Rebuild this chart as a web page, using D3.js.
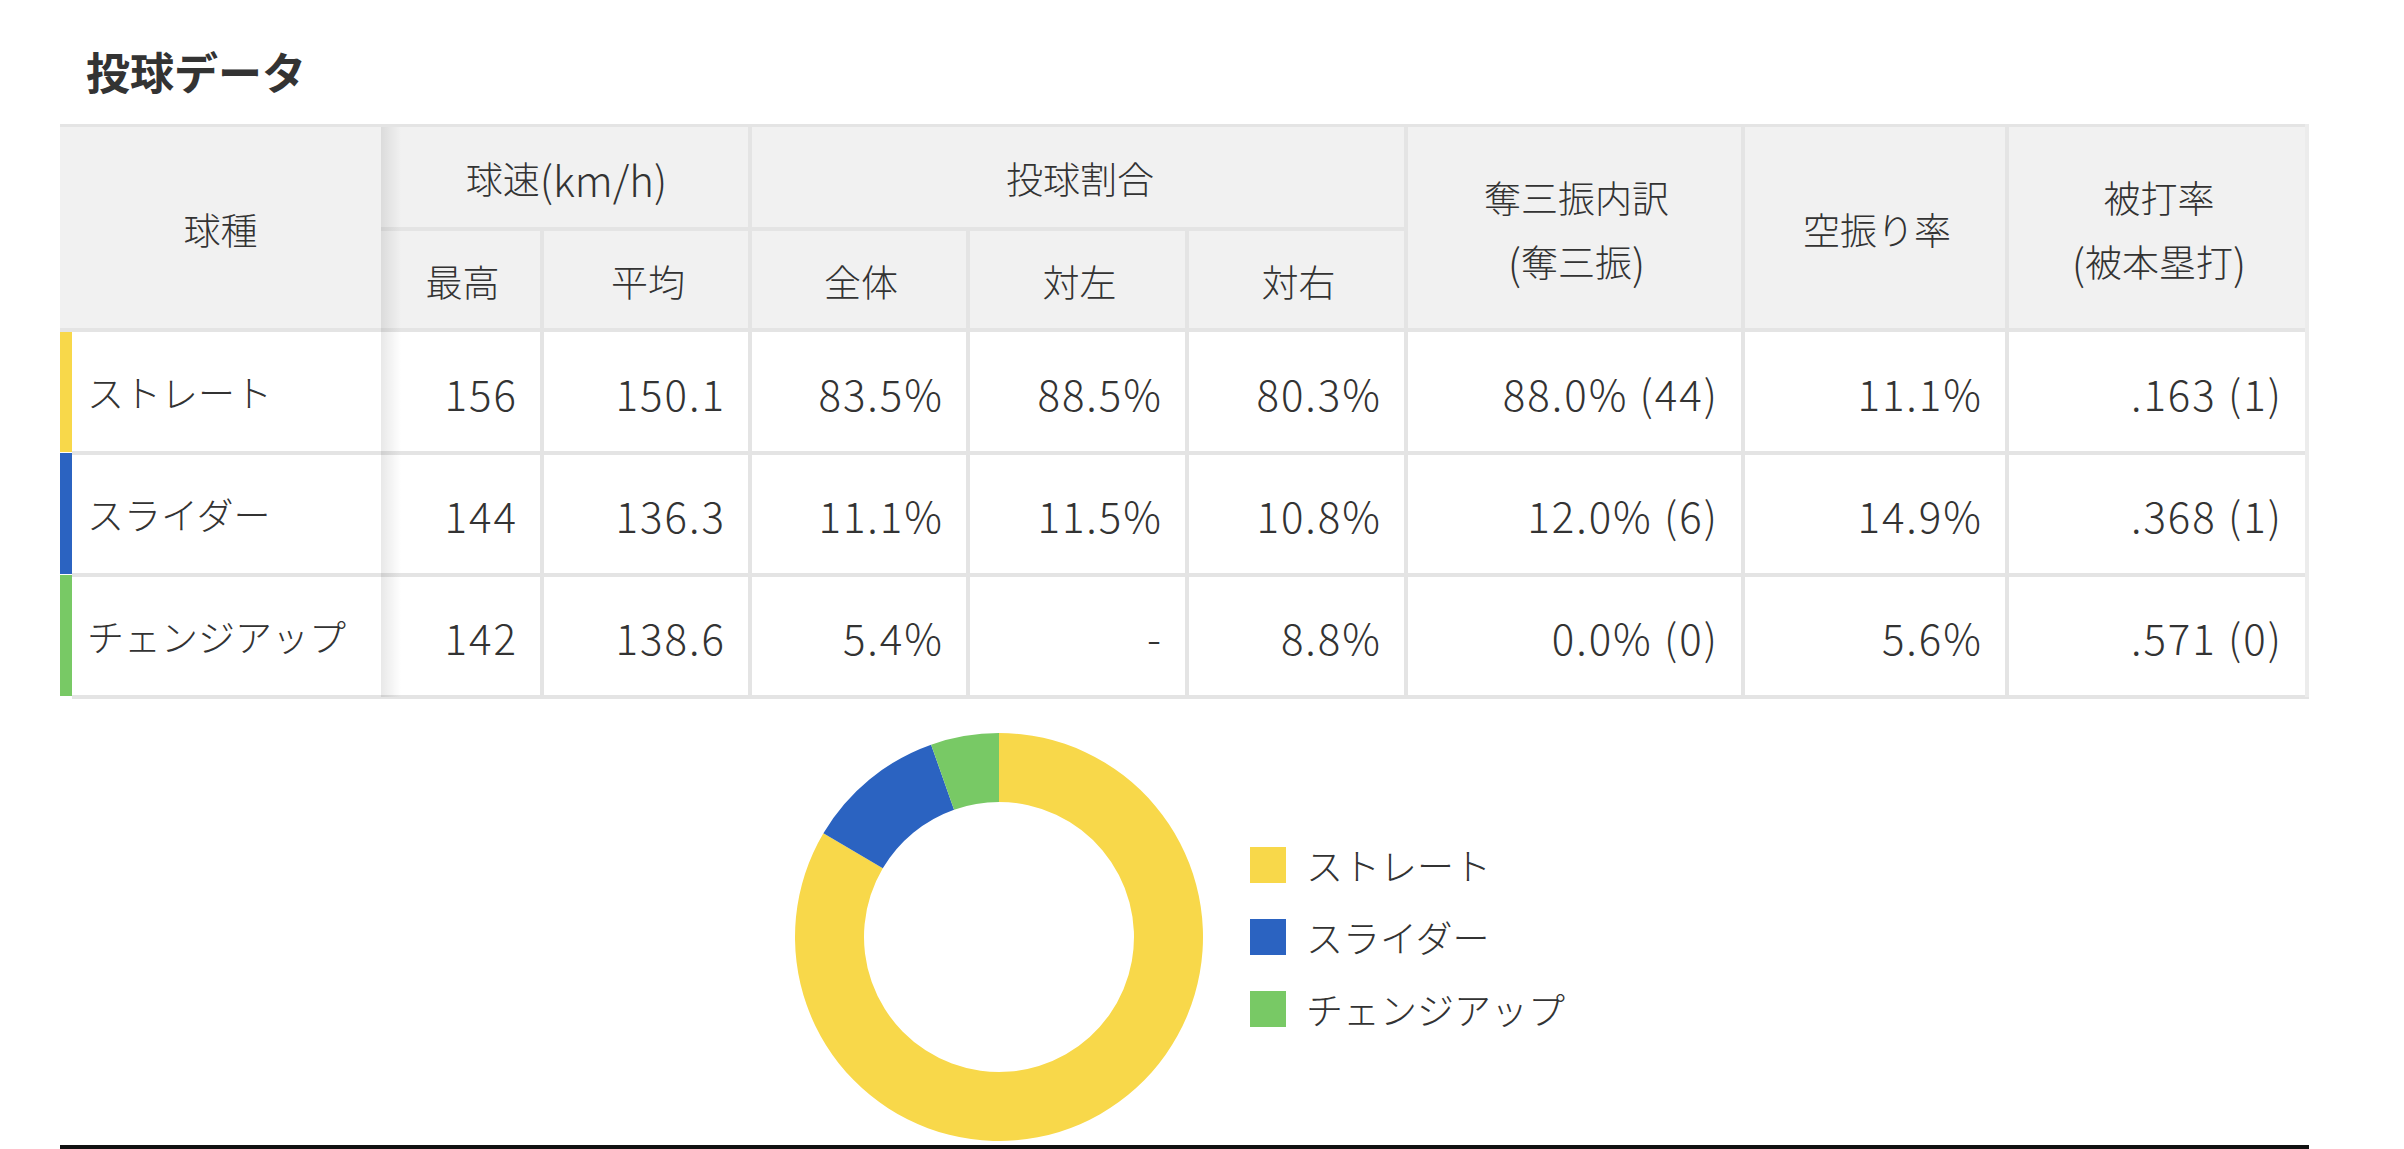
<!DOCTYPE html>
<html>
<head>
<meta charset="utf-8">
<script src="https://cdn.jsdelivr.net/npm/d3@7"></script>
<style>
  body { margin: 0; background: #fff; }
  svg { display: block; }
  text { font-family: "Noto Sans CJK JP", "Noto Sans", sans-serif; fill: #333; font-weight: 300; }
</style>
</head>
<body>
<svg id="chart" width="2404" height="1149"></svg>
<script>
// pitch data
const pitchTypes = ['ストレート', 'スライダー', 'チェンジアップ'];
const pitchColors = ['#f8d84a', '#2b63c1', '#78c965'];
const maxSpeed = [156, 144, 142];
const avgSpeed = [150.1, 136.3, 138.6];
const ratioAll = [83.5, 11.1, 5.4];
const ratioVsL = [88.5, 11.5, null];
const ratioVsR = [80.3, 10.8, 8.8];
const kShare = [88.0, 12.0, 0.0];
const kCount = [44, 6, 0];
const whiffRate = [11.1, 14.9, 5.6];
const avgAgainst = ['.163', '.368', '.571'];
const hrAllowed = [1, 1, 0];

// header labels (each line split into [text, isLatin] parts)
const groupHeaders = [
  { label: [[['球種', 0]]], from: 0, to: 1, rowspan: 2 },
  { label: [[['球速', 0], ['(km/h)', 1]]], from: 1, to: 3, rowspan: 1 },
  { label: [[['投球割合', 0]]], from: 3, to: 6, rowspan: 1 },
  { label: [[['奪三振内訳', 0]], [['(', 1], ['奪三振', 0], [')', 1]]], from: 6, to: 7, rowspan: 2 },
  { label: [[['空振り率', 0]]], from: 7, to: 8, rowspan: 2 },
  { label: [[['被打率', 0]], [['(', 1], ['被本塁打', 0], [')', 1]]], from: 8, to: 9, rowspan: 2 }
];
const subHeaders = [
  { label: '最高', col: 1 }, { label: '平均', col: 2 },
  { label: '全体', col: 3 }, { label: '対左', col: 4 }, { label: '対右', col: 5 }
];

const svg = d3.select('#chart');
const pct = v => v == null ? '-' : d3.format('.1f')(v) + '%';

// layout
const tableLeft = 60, tableTop = 124;
const colWidths = [321, 163, 208, 218, 219, 219, 337, 264, 300];
const colX = [tableLeft].concat(Array.from(d3.cumsum(colWidths), d => tableLeft + d));
const headY = [tableTop, 228, 331];
const y = d3.scaleBand().domain(pitchTypes).range([331, 697]);
const tableBottom = y.range()[1];
const lineColor = '#e4e4e4';
const jpSize = 37, numSize = 42;

// title
svg.append('text')
  .attr('x', 86).attr('y', 71)
  .attr('dominant-baseline', 'central')
  .style('font-size', '44px').style('font-weight', 700)
  .text('投球データ');

// header background
svg.append('rect')
  .attr('x', tableLeft).attr('y', tableTop)
  .attr('width', colX[9] - tableLeft).attr('height', headY[2] - tableTop)
  .attr('fill', '#f1f1f1');

// cell rows
let rows = pitchTypes.map((p, i) => [
  p,
  String(maxSpeed[i]),
  d3.format('.1f')(avgSpeed[i]),
  pct(ratioAll[i]),
  pct(ratioVsL[i]),
  pct(ratioVsR[i]),
  pct(kShare[i]) + ' (' + kCount[i] + ')',
  pct(whiffRate[i]),
  avgAgainst[i] + ' (' + hrAllowed[i] + ')'
]);

// left colour bars
svg.selectAll('.pitchbar')
  .data(pitchTypes)
  .enter().append('rect')
  .attr('class', 'pitchbar')
  .attr('x', tableLeft).attr('width', 12)
  .attr('y', d => y(d))
  .attr('height', y.bandwidth() - 1)
  .attr('fill', (d, i) => pitchColors[i]);

// horizontal lines
let hLines = [
  { y: tableTop + 1.5, x1: tableLeft, x2: colX[9], w: 3 },
  { y: headY[1] + 1, x1: colX[1], x2: colX[6], w: 4 },
  { y: headY[2] - 1, x1: tableLeft, x2: colX[9], w: 4 }
];
pitchTypes.forEach(p => {
  hLines.push({ y: y(p) + y.bandwidth(), x1: tableLeft + 12, x2: colX[9], w: 4 });
});
svg.selectAll('.hline')
  .data(hLines)
  .enter().append('line')
  .attr('class', 'hline')
  .attr('x1', d => d.x1).attr('x2', d => d.x2)
  .attr('y1', d => d.y).attr('y2', d => d.y)
  .attr('stroke', lineColor).attr('stroke-width', d => d.w);

// vertical lines
let vLines = [];
[2, 3, 4, 5, 6, 7, 8, 9].forEach(c => {
  let y1 = (c === 2 || c === 4 || c === 5) ? headY[1] : tableTop;
  vLines.push({ x: colX[c] - 2, y1: y1, y2: tableBottom, color: c === 9 ? '#ececec' : lineColor });
});
svg.selectAll('.vline')
  .data(vLines)
  .enter().append('line')
  .attr('class', 'vline')
  .attr('x1', d => d.x).attr('x2', d => d.x)
  .attr('y1', d => d.y1).attr('y2', d => d.y2)
  .attr('stroke', d => d.color).attr('stroke-width', 4);

// sticky column shadow
let grad = svg.append('defs').append('linearGradient')
  .attr('id', 'shadow').attr('x1', 0).attr('x2', 1).attr('y1', 0).attr('y2', 0);
grad.append('stop').attr('offset', 0).attr('stop-color', '#000').attr('stop-opacity', 0.09);
grad.append('stop').attr('offset', 1).attr('stop-color', '#000').attr('stop-opacity', 0);
svg.append('rect')
  .attr('x', colX[1]).attr('y', tableTop + 3)
  .attr('width', 20).attr('height', tableBottom - tableTop - 3)
  .attr('fill', 'url(#shadow)');

// header text, one <text> per line
let headLines = [];
groupHeaders.forEach(h => {
  let cyH = h.rowspan === 2 ? (headY[0] + headY[2]) / 2 + 1 : (headY[0] + headY[1]) / 2 + 2;
  h.label.forEach((parts, i) => {
    let off = h.label.length === 1 ? 0 : (i === 0 ? -32 : 32);
    headLines.push({ x: (colX[h.from] + colX[h.to]) / 2, y: cyH + off, parts: parts });
  });
});
let hl = svg.selectAll('.ghead')
  .data(headLines)
  .enter().append('text')
  .attr('class', 'ghead')
  .attr('text-anchor', 'middle')
  .attr('dominant-baseline', 'central')
  .attr('x', d => d.x)
  .attr('y', d => d.y);
hl.selectAll('tspan')
  .data(d => d.parts)
  .enter().append('tspan')
  .style('font-size', d => (d[1] ? numSize : jpSize) + 'px')
  .text(d => d[0]);

svg.selectAll('.shead')
  .data(subHeaders)
  .enter().append('text')
  .attr('class', 'shead')
  .attr('text-anchor', 'middle')
  .attr('dominant-baseline', 'central')
  .style('font-size', jpSize + 'px')
  .attr('x', d => (colX[d.col] + colX[d.col + 1]) / 2)
  .attr('y', (headY[1] + headY[2]) / 2 + 1)
  .text(d => d.label);

// body cells
let rowG = svg.selectAll('.row')
  .data(rows)
  .enter().append('g')
  .attr('class', 'row')
  .attr('transform', (d, i) => 'translate(0,' + (y(pitchTypes[i]) + y.bandwidth() / 2) + ')');

rowG.selectAll('text')
  .data(d => d)
  .enter().append('text')
  .attr('dominant-baseline', 'central')
  .style('font-size', (d, i) => (i === 0 ? jpSize : numSize) + 'px')
  .style('letter-spacing', (d, i) => i === 0 ? null : '2px')
  .attr('text-anchor', (d, i) => i === 0 ? 'start' : 'end')
  .attr('x', (d, i) => i === 0 ? 87 : colX[i + 1] - 26)
  .text(d => d);

// donut
const cx = 999, cy = 937;
const pie = d3.pie().sort(null).value(d => d);
const arc = d3.arc().innerRadius(135).outerRadius(204);
svg.append('g')
  .attr('transform', 'translate(' + cx + ',' + cy + ')')
  .selectAll('path')
  .data(pie(ratioAll))
  .enter().append('path')
  .attr('d', arc)
  .attr('fill', (d, i) => pitchColors[i]);

// legend
let leg = svg.selectAll('.legend')
  .data(pitchTypes)
  .enter().append('g')
  .attr('class', 'legend')
  .attr('transform', (d, i) => 'translate(1250,' + (847 + i * 72) + ')');
leg.append('rect')
  .attr('width', 36).attr('height', 36)
  .attr('fill', (d, i) => pitchColors[i]);
leg.append('text')
  .attr('x', 56).attr('y', 18)
  .attr('dominant-baseline', 'central')
  .style('font-size', jpSize + 'px')
  .text(d => d);

// bottom rule
svg.append('rect')
  .attr('x', tableLeft).attr('y', 1145)
  .attr('width', colX[9] - tableLeft).attr('height', 4)
  .attr('fill', '#111');
</script>
</body>
</html>
